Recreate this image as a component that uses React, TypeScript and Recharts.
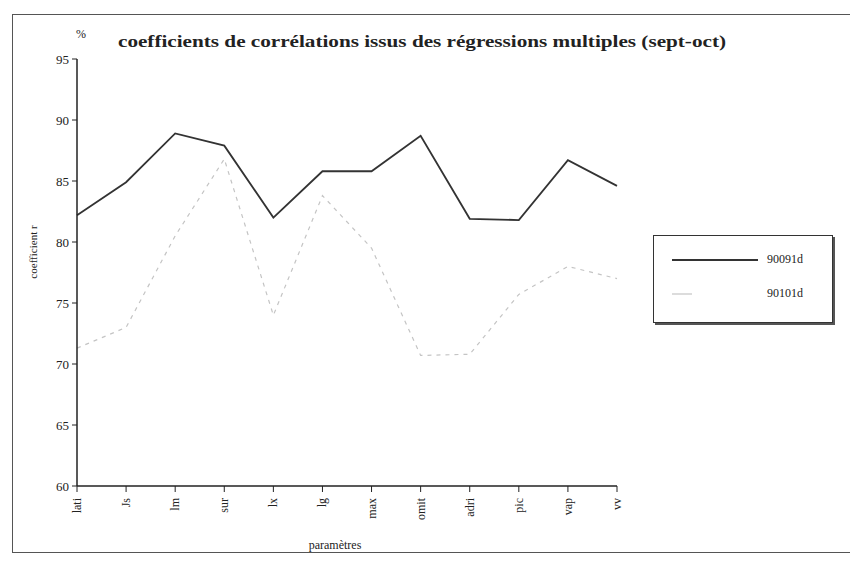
import { LineChart, Line, XAxis, YAxis, Legend } from "recharts"

const CATEGORIES = ["lati", "Js", "lm", "sur", "lx", "lg", "max", "omit", "adri", "pic", "vap", "vv"]
const SERIES_A = [82.2, 84.9, 88.9, 87.9, 82.0, 85.8, 85.8, 88.7, 81.9, 81.8, 86.7, 84.6]
const SERIES_B = [71.3, 73.0, 80.5, 86.8, 74.0, 83.8, 79.5, 70.7, 70.8, 75.7, 78.0, 77.0]
const Y_TICKS = [60, 65, 70, 75, 80, 85, 90, 95]
const TITLE = "coefficients de corrélations issus des régressions multiples (sept-oct)"

const data = CATEGORIES.map((c, i) => ({ name: c, "90091d": SERIES_A[i], "90101d": SERIES_B[i] }))

const FONT = "'Liberation Serif', 'DejaVu Serif', serif"

function XTick({ x, y, payload }: any) {
  return (
    <text
      x={x + 4}
      y={y + 4}
      transform={`rotate(-90, ${x + 4}, ${y + 4})`}
      textAnchor="end"
      fontFamily={FONT}
      fontSize={12}
      fill="#222"
    >
      {payload.value}
    </text>
  )
}

function LegendBox({ payload }: any) {
  return (
    <div
      style={{
        width: 180,
        height: 88,
        border: "1.5px solid #333",
        boxShadow: "2px 2px 0 #555",
        background: "#fff",
        fontFamily: FONT,
        fontSize: 12,
        color: "#222",
        boxSizing: "border-box",
        position: "relative",
      }}
    >
      {(payload || []).map((p: any, i: number) => (
        <div key={p.value} style={{ position: "absolute", left: 18, top: 16 + i * 34, width: 160, height: 16 }}>
          <svg width={90} height={16} style={{ position: "absolute", left: 0, top: 0 }}>
            <line
              x1={0}
              x2={i === 0 ? 86 : 20}
              y1={8}
              y2={8}
              stroke={p.color}
              strokeWidth={i === 0 ? 2 : 1.2}
            />
          </svg>
          <span style={{ position: "absolute", left: 95, top: 0, color: "#222" }}>{p.value}</span>
        </div>
      ))}
    </div>
  )
}

export default function App() {
  return (
    <div style={{ position: "absolute", left: 0, top: 0, width: 850, height: 563, background: "#fff", overflow: "hidden" }}>
      <div style={{ position: "absolute", left: 12, top: 14, width: 840, height: 537, border: "1.5px solid #555" }} />
      <svg width={850} height={60} style={{ position: "absolute", left: 0, top: 0 }}>
        <text x={76} y={38} fontFamily={FONT} fontSize={12} fill="#222">%</text>
        <text
          x={118}
          y={47}
          fontFamily={FONT}
          fontSize={16}
          fontWeight="bold"
          fill="#222"
          textLength={608}
          lengthAdjust="spacingAndGlyphs"
        >
          {TITLE}
        </text>
      </svg>
      <LineChart width={850} height={563} data={data} margin={{ top: 59, right: 233, bottom: 0, left: 0 }}>
        <XAxis
          dataKey="name"
          height={77}
          interval={0}
          tick={<XTick />}
          tickSize={6}
          axisLine={{ stroke: "#222", strokeWidth: 1.5 }}
          tickLine={{ stroke: "#222" }}
        />
        <YAxis
          width={77}
          domain={[60, 95]}
          ticks={Y_TICKS}
          interval={0}
          tickSize={5}
          tickMargin={3}
          tick={{ fontFamily: FONT, fontSize: 13, fill: "#222" }}
          axisLine={{ stroke: "#222", strokeWidth: 1.5 }}
          tickLine={{ stroke: "#222" }}
        />
        <Legend
          layout="horizontal"
          verticalAlign="middle"
          align="center"
          content={<LegendBox />}
          wrapperStyle={{ left: 653, top: 235, width: 182, height: 90 }}
        />
        <Line dataKey="90091d" stroke="#333" strokeWidth={1.8} dot={false} isAnimationActive={false} />
        <Line
          dataKey="90101d"
          stroke="#c4c4c4"
          strokeWidth={1.2}
          strokeDasharray="4 5"
          dot={false}
          isAnimationActive={false}
        />
      </LineChart>
      <svg width={850} height={563} style={{ position: "absolute", left: 0, top: 0, pointerEvents: "none" }}>
        <text
          x={37}
          y={252}
          transform="rotate(-90, 37, 252)"
          textAnchor="middle"
          fontFamily={FONT}
          fontSize={11}
          fill="#222"
        >
          coefficient r
        </text>
        <text x={335} y={549} textAnchor="middle" fontFamily={FONT} fontSize={12} fill="#222">
          paramètres
        </text>
      </svg>
    </div>
  )
}
